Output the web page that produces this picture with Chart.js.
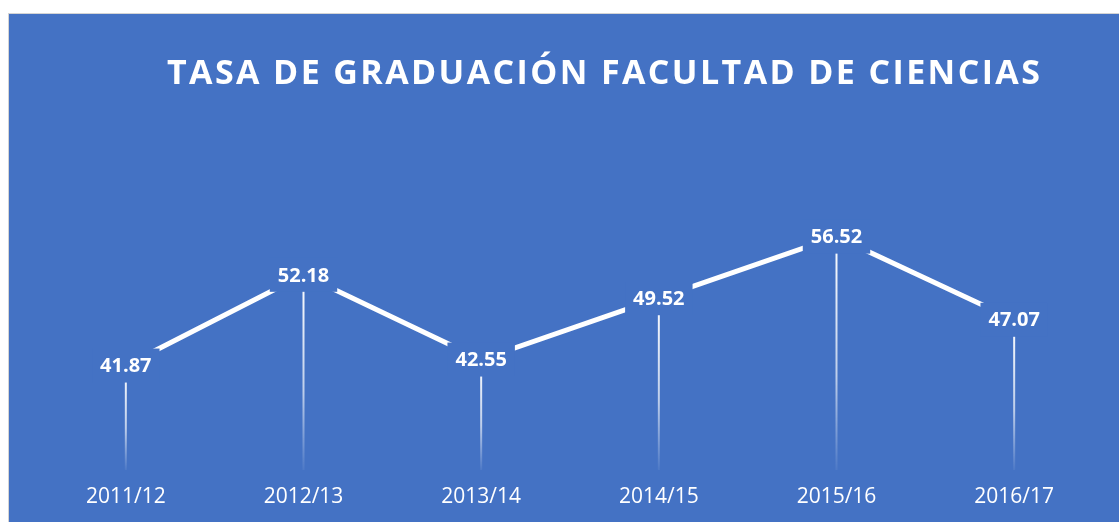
<!DOCTYPE html>
<html lang="es">
<head>
  <meta charset="UTF-8">
  <title>Tasa de graduación Facultad de Ciencias</title>
  <style>
    body {
      margin: 0;
      background: #fff;
      overflow: hidden;
    }
    .frame {
      position: absolute;
      left: 8px;
      top: 13px;
      border-left: 1px solid #d4d4d4;
      border-top: 1px solid #d4d4d4;
    }
    canvas {
      display: block;
      background: #4472C4;
    }
  </style>
</head>
<body>
  <div class="frame">
    <canvas id="lineChart" width="1110" height="508"></canvas>
  </div>

  <script src="https://cdn.jsdelivr.net/npm/chart.js"></script>
  <script>
    const chartTitle = 'TASA DE GRADUACIÓN FACULTAD DE CIENCIAS';
    const cursos = ['2011/12', '2012/13', '2013/14', '2014/15', '2015/16', '2016/17'];
    const tasas  = [41.87, 52.18, 42.55, 49.52, 56.52, 47.07];

    const blue = '#4472C4';
    const fontFam = "'Open Sans', 'DejaVu Sans', sans-serif";

    // drop lines from each point down to the bottom of the plot
    const dropLines = {
      id: 'dropLines',
      beforeDatasetsDraw(chart) {
        const ctx = chart.ctx;
        const bottom = chart.chartArea.bottom;
        chart.getDatasetMeta(0).data.forEach(pt => {
          const g = ctx.createLinearGradient(0, pt.y, 0, bottom);
          g.addColorStop(0, 'rgba(255,255,255,1)');
          g.addColorStop(0.6, 'rgba(255,255,255,0.65)');
          g.addColorStop(1, 'rgba(255,255,255,0.05)');
          ctx.save();
          ctx.strokeStyle = g;
          ctx.lineWidth = 2;
          ctx.beginPath();
          ctx.moveTo(pt.x, pt.y);
          ctx.lineTo(pt.x, bottom);
          ctx.stroke();
          ctx.restore();
        });
      }
    };

    // value labels sitting on the points, boxed in the background colour
    const valueLabels = {
      id: 'valueLabels',
      afterDatasetsDraw(chart) {
        const ctx = chart.ctx;
        ctx.save();
        ctx.font = 'bold 20px ' + fontFam;
        ctx.textAlign = 'center';
        ctx.textBaseline = 'middle';
        chart.getDatasetMeta(0).data.forEach((pt, i) => {
          const txt = tasas[i].toFixed(2);
          const w = ctx.measureText(txt).width + 16;
          const h = 34;
          ctx.fillStyle = blue;
          ctx.fillRect(pt.x - w / 2, pt.y - h / 2, w, h);
          ctx.fillStyle = '#fff';
          ctx.fillText(txt, pt.x, pt.y + 1);
        });
        ctx.restore();
      }
    };

    // spaced-out title
    const spacedTitle = {
      id: 'spacedTitle',
      afterDraw(chart) {
        const ctx = chart.ctx;
        ctx.save();
        ctx.font = 'bold 34px ' + fontFam;
        ctx.fillStyle = '#fff';
        ctx.textAlign = 'left';
        ctx.textBaseline = 'alphabetic';
        const w = ctx.measureText(chartTitle).width;
        const sp = Math.max(0, (873 - w) / (chartTitle.length - 1));
        ctx.letterSpacing = sp.toFixed(2) + 'px';
        ctx.fillText(chartTitle, 158, 70);
        ctx.restore();
      }
    };

    const ctx = document.getElementById('lineChart').getContext('2d');
    new Chart(ctx, {
      type: 'line',
      data: {
        labels: cursos,
        datasets: [{
          label: 'Tasa de graduación',
          data: tasas,
          borderColor: '#fff',
          borderWidth: 5,
          tension: 0,
          pointRadius: 0,
          pointHoverRadius: 0,
          fill: false
        }]
      },
      options: {
        responsive: false,
        animation: false,
        layout: { padding: { left: 28, right: 16, top: 192, bottom: 0 } },
        scales: {
          x: {
            offset: true,
            grid: { display: false, drawTicks: false },
            border: { display: false },
            afterFit(scale) { scale.height = 52; },
            ticks: {
              color: '#fff',
              padding: 14,
              font: { family: fontFam, size: 21 }
            }
          },
          y: {
            display: false,
            min: 30,
            max: 60
          }
        },
        plugins: {
          legend: { display: false },
          tooltip: { enabled: false },
          title: { display: false }
        }
      },
      plugins: [dropLines, valueLabels, spacedTitle]
    });
  </script>
</body>
</html>
